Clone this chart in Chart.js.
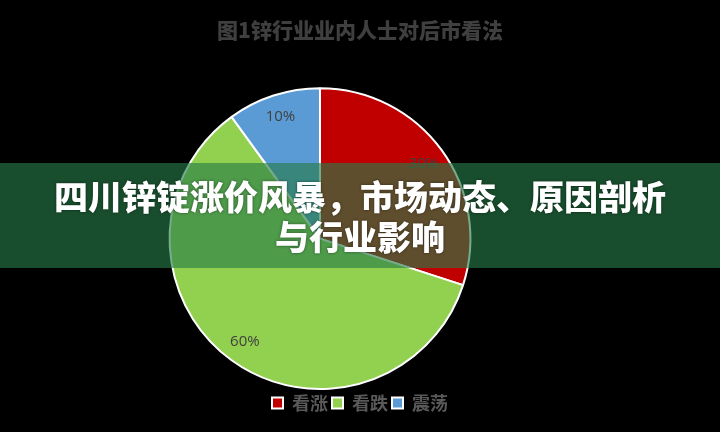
<!DOCTYPE html>
<html>
<head>
<meta charset="utf-8">
<script src="https://cdn.jsdelivr.net/npm/chart.js@4"></script>
<style>
  html, body { margin: 0; padding: 0; background: #000; }
  #wrap { width: 720px; height: 432px; }
</style>
</head>
<body>
<div id="wrap"><canvas id="myChart" width="720" height="432"></canvas></div>
<script>
// 图1 锌行业业内人士对后市看法
let categorias = ["看涨", "看跌", "震荡"];
let valores = [30, 60, 10];
let colores = ["#C00000", "#92D050", "#5B9BD5"];
let titulo = "图1锌行业业内人士对后市看法";
let banner = ["四川锌锭涨价风暴，市场动态、原因剖析", "与行业影响"];

// empuja el pastel a la izquierda como en el original
let shiftArea = {
    id: "shiftArea",
    afterLayout(chart) {
        let a = chart.chartArea;
        a.right -= 80;
        a.width = a.right - a.left;
    }
};

// etiquetas de porcentaje dentro de cada sector
let pctLabels = {
    id: "pctLabels",
    afterDatasetsDraw(chart) {
        let ctx = chart.ctx;
        let meta = chart.getDatasetMeta(0);
        let total = valores.reduce((s, v) => s + v, 0);
        ctx.save();
        ctx.font = "15px 'Open Sans', sans-serif";
        ctx.fillStyle = "#404040";
        ctx.textAlign = "center";
        ctx.textBaseline = "middle";
        meta.data.forEach((arc, i) => {
            let p = arc.getProps(["x", "y", "startAngle", "endAngle", "outerRadius"], true);
            let mid = (p.startAngle + p.endAngle) / 2;
            let r = p.outerRadius * 0.85;
            let txt = Math.round(valores[i] / total * 100) + "%";
            ctx.fillText(txt, p.x + Math.cos(mid) * r, p.y + Math.sin(mid) * r);
        });
        ctx.restore();
    }
};

// franja verde con el titular encima de todo
let bannerPlugin = {
    id: "bannerPlugin",
    afterDraw(chart) {
        let ctx = chart.ctx;
        ctx.save();
        ctx.fillStyle = "rgba(38,124,71,0.63)";
        ctx.fillRect(0, 163, chart.width, 105);
        ctx.font = "900 34px 'Noto Sans CJK SC', sans-serif";
        ctx.fillStyle = "#ffffff";
        ctx.textAlign = "center";
        ctx.textBaseline = "middle";
        ctx.shadowColor = "rgba(0,0,0,0.5)";
        ctx.shadowBlur = 3;
        ctx.fillText(banner[0], chart.width / 2, 197);
        ctx.fillText(banner[1], chart.width / 2, 237);
        ctx.restore();
    }
};

let ctx = document.querySelector("#myChart");
let myChart = new Chart(ctx, {
    type: "pie",
    data: {
        labels: categorias,
        datasets: [{
            data: valores,
            backgroundColor: colores,
            borderColor: "#ffffff",
            borderWidth: 2
        }]
    },
    options: {
        responsive: false,
        animation: false,
        layout: { padding: { bottom: 10 } },
        plugins: {
            title: {
                display: true,
                text: titulo,
                color: "#3f3f3f",
                font: { family: "'Noto Sans CJK SC', serif", size: 21, weight: "900" },
                padding: { top: 17, bottom: 45 }
            },
            legend: {
                position: "bottom",
                labels: {
                    color: "#595959",
                    font: { family: "'Noto Sans CJK SC', serif", size: 18, weight: "bold" },
                    boxWidth: 11,
                    boxHeight: 11,
                    padding: 4
                }
            },
            tooltip: { enabled: false }
        }
    },
    plugins: [shiftArea, pctLabels, bannerPlugin]
});
</script>
</body>
</html>
